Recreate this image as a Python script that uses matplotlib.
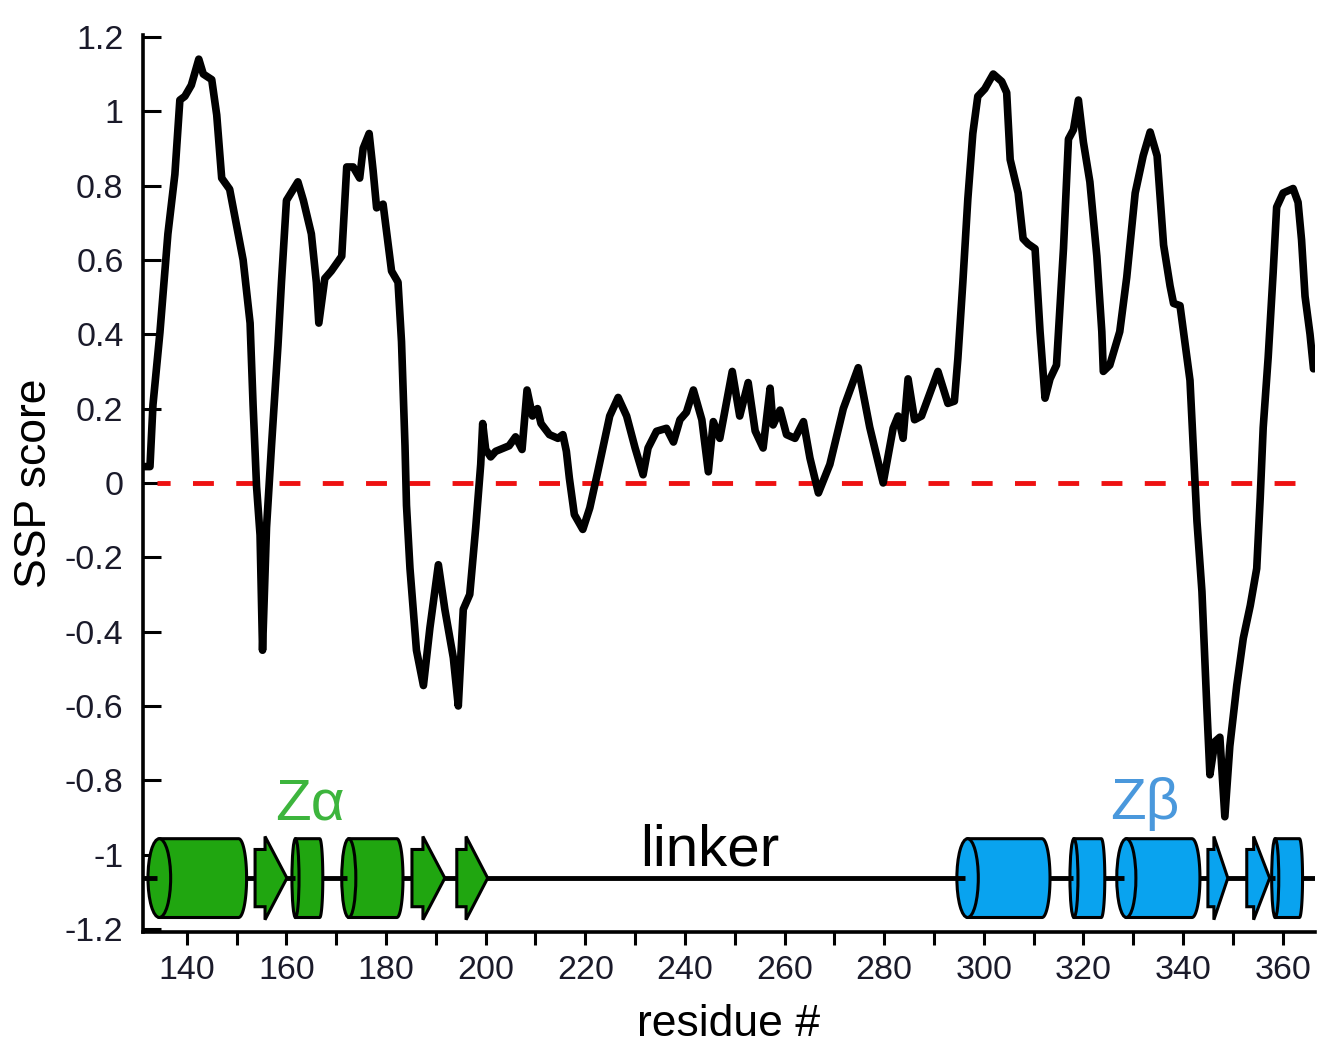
import numpy as np
import matplotlib
matplotlib.use("Agg")
import matplotlib.pyplot as plt
from matplotlib.patches import Polygon, Ellipse

plt.rcParams['font.family'] = ['Liberation Sans', 'DejaVu Sans']

# SSP score per residue
residue = [131.0, 132.6, 133.2, 134.6, 136.2, 137.6, 138.6, 139.6, 140.9, 142.4,
           143.3, 145.0, 146.0, 147.0, 148.6, 149.6, 151.3, 152.7, 153.3, 154.0,
           154.7, 155.2, 156.0, 157.0, 158.3, 159.0, 160.0, 162.3, 163.4, 165.0,
           166.0, 166.5, 167.7, 169.0, 171.1, 172.1, 173.4, 174.7, 175.4, 176.6,
           177.4, 178.1, 179.4, 181.1, 182.4, 183.1, 183.8, 184.1, 184.8, 186.1,
           187.5, 188.8, 190.5, 191.8, 193.5, 194.5, 195.5, 196.8, 198.0, 199.0,
           199.4, 200.0, 201.0, 202.0, 204.7, 206.0, 207.3, 208.3, 209.4, 210.4,
           211.1, 212.8, 214.5, 215.5, 216.2, 216.8, 217.8, 219.5, 220.9, 222.5,
           224.9, 226.6, 228.3, 230.0, 231.6, 232.6, 234.3, 236.3, 237.7, 239.0,
           240.3, 241.7, 243.4, 244.7, 245.7, 247.0, 249.5, 251.0, 252.7, 254.1,
           255.7, 257.1, 257.7, 259.1, 260.4, 262.1, 263.8, 265.1, 266.8, 269.1,
           271.8, 274.8, 277.1, 279.8, 281.8, 282.8, 283.8, 284.8, 286.1, 287.5,
           290.8, 292.8, 294.1, 294.8, 295.8, 296.8, 297.8, 298.8, 300.2, 301.9,
           303.6, 304.6, 305.3, 306.9, 307.9, 308.9, 310.3, 311.3, 312.3, 313.3,
           314.6, 316.0, 317.0, 318.0, 319.0, 320.0, 321.3, 322.7, 323.7, 324.0,
           325.3, 327.3, 328.7, 330.4, 332.0, 333.4, 334.8, 336.1, 337.4, 338.1,
           339.4, 340.4, 341.4, 342.1, 342.8, 343.8, 344.8, 345.4, 346.4, 347.4,
           348.4, 349.4, 350.8, 352.1, 353.5, 354.8, 355.5, 356.1, 357.1, 358.1,
           358.8, 360.1, 362.1, 363.1, 363.8, 364.5, 365.5, 366.2]
ssp = [0.044, 0.044, 0.21, 0.405, 0.67, 0.83, 1.03, 1.04, 1.07, 1.14,
       1.10, 1.085, 0.99, 0.82, 0.79, 0.72, 0.60, 0.43, 0.21, -0.01,
       -0.14, -0.45, -0.12, 0.10, 0.37, 0.54, 0.76, 0.81, 0.76, 0.67,
       0.54, 0.43, 0.55, 0.57, 0.61, 0.85, 0.85, 0.82, 0.90, 0.94,
       0.84, 0.74, 0.75, 0.57, 0.54, 0.38, 0.10, -0.06, -0.23, -0.45,
       -0.545, -0.39, -0.22, -0.34, -0.47, -0.60, -0.34, -0.30, -0.12, 0.05,
       0.16, 0.09, 0.07, 0.085, 0.10, 0.124, 0.09, 0.25, 0.18, 0.20,
       0.16, 0.13, 0.12, 0.13, 0.085, 0.013, -0.085, -0.125, -0.067, 0.03,
       0.18, 0.23, 0.18, 0.094, 0.022, 0.094, 0.139, 0.147, 0.11, 0.17,
       0.19, 0.25, 0.17, 0.03, 0.165, 0.12, 0.30, 0.18, 0.27, 0.14,
       0.094, 0.255, 0.156, 0.196, 0.13, 0.12, 0.165, 0.067, -0.027, 0.05,
       0.20, 0.31, 0.15, 0.0, 0.147, 0.18, 0.12, 0.28, 0.17, 0.18,
       0.30, 0.214, 0.22, 0.335, 0.54, 0.764, 0.94, 1.04, 1.06, 1.10,
       1.08, 1.05, 0.87, 0.78, 0.657, 0.643, 0.63, 0.407, 0.228, 0.28,
       0.317, 0.63, 0.925, 0.95, 1.03, 0.917, 0.81, 0.61, 0.407, 0.30,
       0.317, 0.407, 0.553, 0.78, 0.88, 0.944, 0.88, 0.64, 0.53, 0.483,
       0.477, 0.376, 0.276, 0.086, -0.103, -0.292, -0.608, -0.785, -0.696, -0.684,
       -0.898, -0.708, -0.544, -0.418, -0.33, -0.23, -0.04, 0.149, 0.338, 0.566,
       0.742, 0.78, 0.792, 0.755, 0.654, 0.502, 0.40, 0.307]

# secondary structure elements (start, end residue)
za_helices = [(132.2, 152.0), (161.1, 167.3), (171.1, 183.4)]
za_strands = [(153.7, 160.1), (185.2, 191.8), (194.2, 200.4)]
zb_helices = [(294.6, 313.3), (317.3, 324.3), (326.7, 343.4), (357.8, 364.0)]
zb_strands = [(345.0, 349.0), (352.8, 357.4)]

xticks_major = [140, 160, 180, 200, 220, 240, 260, 280, 300, 320, 340, 360]
yticks = [-1.2, -1.0, -0.8, -0.6, -0.4, -0.2, 0.0, 0.2, 0.4, 0.6, 0.8, 1.0, 1.2]
ytick_labels = ['-1.2', '-1', '-0.8', '-0.6', '-0.4', '-0.2', '0',
                '0.2', '0.4', '0.6', '0.8', '1', '1.2']

green = '#20a610'
blue = '#09a3ef'
yc = -1.063       # backbone level of the cartoon
hh = 0.106        # helix half height


def draw_helix(ax, a, b, color):
    L = b - a
    ew = 0.23 * L
    rw = min(1.6, 0.1 * L)
    cx = a + ew / 2
    t = np.linspace(np.pi / 2, -np.pi / 2, 40)
    arc = list(zip((b - rw) + rw * np.cos(t), yc + hh * np.sin(t)))
    body = Polygon([(cx, yc + hh)] + arc + [(cx, yc - hh)], closed=True,
                   fc=color, ec='black', lw=2.2, zorder=3, joinstyle='round')
    ax.add_patch(body)
    ax.add_patch(Ellipse((cx, yc), ew, 2 * hh, fc=color, ec='black', lw=2.2, zorder=4))
    ax.plot([a, a + 0.4 * ew], [yc, yc], color='black', lw=3.5,
            solid_capstyle='butt', zorder=5)


def draw_strand(ax, a, b, color):
    L = b - a
    hl = min(4.4, 0.7 * L)
    sh, hd = 0.077, 0.112
    pts = [(a, yc + sh), (b - hl, yc + sh), (b - hl, yc + hd), (b, yc),
           (b - hl, yc - hd), (b - hl, yc - sh), (a, yc - sh)]
    ax.add_patch(Polygon(pts, closed=True, fc=color, ec='black', lw=2.2,
                         zorder=3, joinstyle='miter'))


fig = plt.figure(figsize=(13.19, 10.43), dpi=100)
ax = fig.add_axes([143 / 1319, 111 / 1043, 1172 / 1319, 897 / 1043])

ax.plot(residue, ssp, color='black', lw=5.5, solid_joinstyle='round',
        solid_capstyle='round', zorder=6)
ax.plot([134.0, 367.0], [0, 0], color='#ee1111', lw=3.5,
        linestyle=(1.6, (4.3, 4.6)), zorder=5)

# cartoon
ax.axhline(yc, color='black', lw=3.5, zorder=2)
for a, b in za_helices:
    draw_helix(ax, a, b, green)
for a, b in za_strands:
    draw_strand(ax, a, b, green)
for a, b in zb_helices:
    draw_helix(ax, a, b, blue)
for a, b in zb_strands:
    draw_strand(ax, a, b, blue)

ax.text(164.7, -0.905, 'Z\u03b1', color='#3db53d', fontsize=42,
        ha='center', va='baseline')
ax.text(332.4, -0.905, 'Z\u03b2', color='#4a98dc', fontsize=42,
        ha='center', va='baseline')
ax.text(245.0, -1.03, 'linker', color='black', fontsize=42,
        ha='center', va='baseline')

ax.set_xlim(131.2, 366.5)
ax.set_ylim(-1.208, 1.205)

ax.set_xticks(xticks_major)
ax.set_xticks(np.arange(150, 366, 20), minor=True)
ax.set_yticks(yticks)
ax.set_yticklabels(ytick_labels)

for s in ['top', 'right']:
    ax.spines[s].set_visible(False)
for s in ['left', 'bottom']:
    ax.spines[s].set_linewidth(2.6)

ax.tick_params(axis='x', which='both', direction='out', length=9.5, width=2.2,
               labelsize=24.5, pad=7, colors='black')
ax.tick_params(axis='y', direction='in', length=13, width=2.2,
               labelsize=24.5, pad=14)
for lab in ax.get_xticklabels() + ax.get_yticklabels():
    lab.set_color('#1a1a2a')

ax.set_xlabel('residue #', fontsize=32)
ax.xaxis.set_label_coords(0.5, -0.08)
ax.set_ylabel('SSP score', fontsize=32)
ax.yaxis.set_label_coords(-0.075, 0.5)

fig.savefig('out.png', dpi=100)
